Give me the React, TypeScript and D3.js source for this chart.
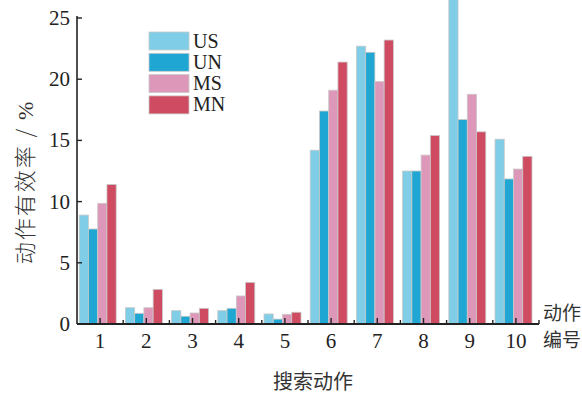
import React from "react";
import * as d3 from "d3";

const actions = ["1", "2", "3", "4", "5", "6", "7", "8", "9", "10"];
const seriesNames = ["US", "UN", "MS", "MN"];
const usValues = [8.9, 1.33, 1.09, 1.09, 0.82, 14.2, 22.7, 12.5, 26.6, 15.1];
const unValues = [7.76, 0.87, 0.63, 1.28, 0.4, 17.4, 22.2, 12.5, 16.7, 11.85];
const msValues = [9.86, 1.33, 0.9, 2.29, 0.79, 19.1, 19.8, 13.8, 18.77, 12.66];
const mnValues = [11.4, 2.83, 1.28, 3.4, 0.96, 21.4, 23.2, 15.4, 15.7, 13.7];
const yTicks = [0, 5, 10, 15, 20, 25];
const colors = ["#7fcde6", "#1fa6d3", "#dd98b9", "#cf4b62"];

const W = 582;
const H = 394;
const left = 77;
const right = 539;
const y0px = 324;
const y25px = 18;
const barShift = -2.4;

export default function App() {
  const series = [usValues, unValues, msValues, mnValues];
  // bar groups sit slightly left of the category tick
  const x = d3
    .scaleBand<string>()
    .domain(actions)
    .range([left + barShift, right + barShift])
    .paddingInner(0.2)
    .paddingOuter(0.1);
  const xc = d3.scaleBand<string>().domain(actions).range([left, right]);
  const inner = d3.scaleBand<string>().domain(seriesNames).range([0, x.bandwidth()]);
  const y = d3.scaleLinear().domain([0, 25]).range([y0px, y25px]);
  const serif = "'Liberation Serif', 'Times New Roman', serif";
  const cjk = "'Noto Sans CJK SC', sans-serif";

  return (
    <svg width={W} height={H} style={{ position: "absolute", left: 0, top: 0, background: "#fff" }}>
      {actions.map((a, i) => (
        <g key={a}>
          {seriesNames.map((s, j) => {
            const v = series[j][i];
            return (
              <rect
                key={s}
                x={(x(a) as number) + (inner(s) as number)}
                y={y(v)}
                width={inner.bandwidth()}
                height={y0px - y(v)}
                fill={colors[j]}
                stroke="#c9c9c9"
                strokeWidth={0.8}
              />
            );
          })}
        </g>
      ))}
      {/* axes */}
      <line x1={left} x2={left} y1={y(25) - 2} y2={y0px} stroke="#222" strokeWidth={1.6} />
      <line x1={left} x2={right} y1={y0px} y2={y0px} stroke="#222" strokeWidth={1.8} />
      {yTicks.map((t) => (
        <g key={t}>
          <line x1={left} x2={left + 5} y1={y(t)} y2={y(t)} stroke="#222" strokeWidth={1.4} />
          <text x={left - 7} y={y(t) + 7} textAnchor="end" fontFamily={serif} fontSize={21} fill="#222">
            {t}
          </text>
        </g>
      ))}
      {actions.map((a) => {
        const c = (xc(a) as number) + xc.bandwidth() / 2;
        const b = (xc(a) as number) + xc.bandwidth();
        return (
          <g key={a}>
            <line x1={c} x2={c} y1={y0px} y2={y0px - 6} stroke="#222" strokeWidth={1.4} />
            <line x1={b} x2={b} y1={y0px} y2={y0px - 4} stroke="#222" strokeWidth={1.4} />
            <text x={c} y={348} textAnchor="middle" fontFamily={serif} fontSize={21} fill="#222">
              {a}
            </text>
          </g>
        );
      })}
      <text x={543} y={320} fontFamily={cjk} fontSize={19} fill="#333">动作</text>
      <text x={543} y={347} fontFamily={cjk} fontSize={19} fill="#333">编号</text>
      <text x={313} y={389} textAnchor="middle" fontFamily={cjk} fontSize={20} fill="#333">搜索动作</text>
      <text
        transform={`translate(33, ${182}) rotate(-90)`}
        textAnchor="middle"
        fontFamily={cjk}
        fontSize={22}
        fontWeight={300}
        letterSpacing={2}
        fill="#333"
      >
        动作有效率 / <tspan fontFamily={serif}>%</tspan>
      </text>
      {/* legend */}
      {seriesNames.map((s, j) => (
        <g key={s}>
          <rect x={149} y={32 + j * 21.3} width={40} height={18} fill={colors[j]} stroke="#c9c9c9" strokeWidth={0.8} />
          <text x={193} y={47.5 + j * 21.3} fontFamily={serif} fontSize={20} fill="#222">
            {s}
          </text>
        </g>
      ))}
    </svg>
  );
}
